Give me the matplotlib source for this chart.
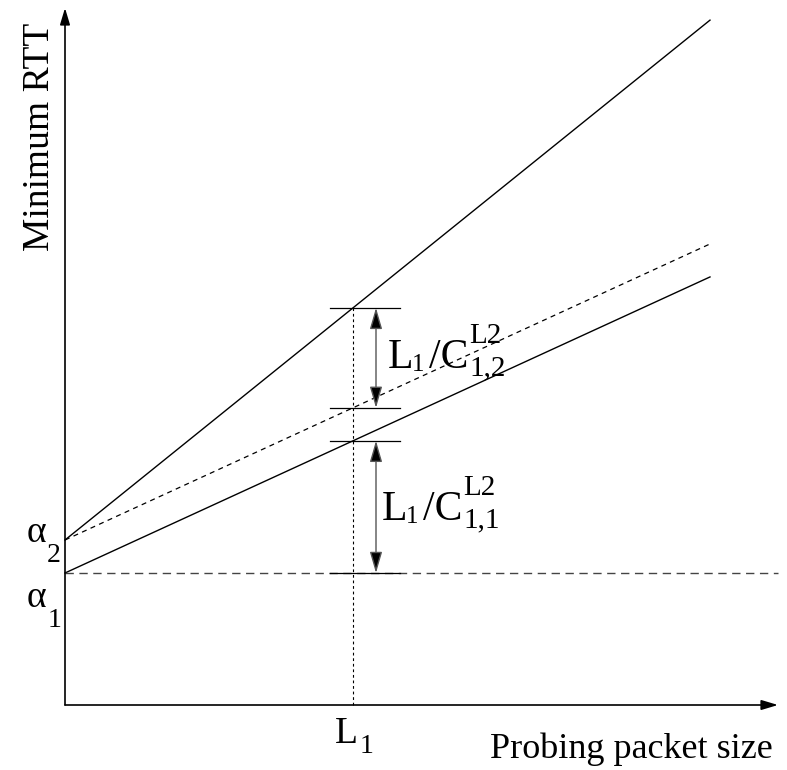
import matplotlib
matplotlib.use("Agg")
import matplotlib.pyplot as plt
import numpy as np

plt.rcParams['font.family'] = ['Liberation Serif', 'DejaVu Serif']

# model values (diagram units)
alpha1 = 132
alpha2 = 165
slope_fast = 0.459   # lower solid line and dashed parallel
slope_slow = 0.806   # steep solid line
L1 = 288
x_end = 645

x_label = 'Probing packet size'
y_label = 'Minimum RTT'

fig = plt.figure(figsize=(7.87, 7.70), dpi=100)
ax = fig.add_axes([0, 0, 1, 1])
ax.set_xlim(-65, 722)
ax.set_ylim(-65, 705)
ax.axis('off')

# axes with arrows
axis_arrow = dict(arrowstyle='-|>,head_length=1.0,head_width=0.3', lw=1.2,
                  color='black', shrinkA=0, shrinkB=0)
ax.annotate('', xy=(713, 0), xytext=(0, 0), arrowprops=axis_arrow)
ax.annotate('', xy=(0, 697), xytext=(0, 0), arrowprops=axis_arrow)

xs = np.array([0, x_end])
ax.plot(xs, alpha2 + slope_slow * xs, color='black', lw=1.0)
ax.plot(xs, alpha1 + slope_fast * xs, color='black', lw=1.0)
ax.plot(xs, alpha2 + slope_fast * xs, color='black', lw=0.9, dashes=(4, 3.5))
ax.plot([0, 713], [alpha1, alpha1], color='#444444', lw=1.0, dashes=(6, 4))

y_top = alpha2 + slope_slow * L1
y_mid = alpha2 + slope_fast * L1
y_low = alpha1 + slope_fast * L1

ax.plot([L1, L1], [0, y_top], color='black', lw=0.8, dashes=(2.5, 2.5))

for yv in [y_top, y_mid, y_low, alpha1]:
    ax.plot([L1 - 23, L1 + 47], [yv, yv], color='black', lw=0.9)

xa = L1 + 23
for y0, y1 in [(y_top, y_mid), (y_low, alpha1)]:
    ax.annotate('', xy=(xa, y1), xytext=(xa, y0),
                arrowprops=dict(arrowstyle='<|-|>,head_length=1.3,head_width=0.38', lw=1.0,
                                ec='#555555', fc='black', shrinkA=0, shrinkB=0))

# axis titles
ax.text(-16, 568, y_label, rotation=90, rotation_mode='anchor',
        ha='center', va='baseline', fontsize=27)
ax.text(708, -53, x_label, ha='right', va='baseline', fontsize=26)

# L1 under x axis
ax.text(270, -38, 'L', ha='left', va='baseline', fontsize=27)
ax.text(295, -48, '1', ha='left', va='baseline', fontsize=20)

# alpha labels
ax.text(-38, 163, 'α', ha='left', va='baseline', fontsize=27)
ax.text(-18, 143, '2', ha='left', va='baseline', fontsize=20)
ax.text(-38, 98, 'α', ha='left', va='baseline', fontsize=27)
ax.text(-17, 78, '1', ha='left', va='baseline', fontsize=20)


def gap_label(x0, base, sub_last):
    # x0, base: left edge and baseline of the big "L"
    ax.text(x0, base, 'L', ha='left', va='baseline', fontsize=30)
    ax.text(x0 + 24, base - 3, '1', ha='left', va='baseline', fontsize=18)
    ax.text(x0 + 41, base, '/C', ha='left', va='baseline', fontsize=30)
    ax.text(x0 + 81, base + 25, 'L2', ha='left', va='baseline', fontsize=21)
    ax.text(x0 + 81, base - 7, '1,' + sub_last, ha='left', va='baseline', fontsize=21)


gap_label(323, 337, '2')
gap_label(317, 185, '1')

fig.savefig('out.png', dpi=100)
